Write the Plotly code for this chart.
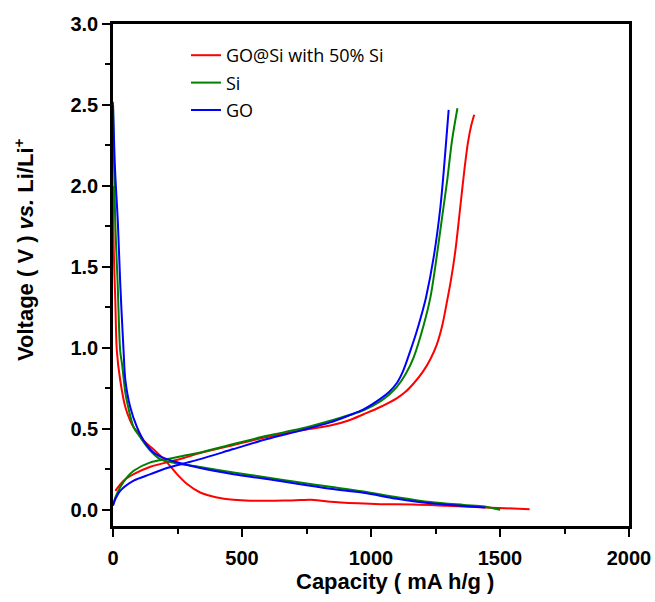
import plotly.graph_objects as go

# ---------------- data ----------------
series_names = ["GO@Si with 50% Si", "Si", "GO"]
series_colors = ["#ff0000", "#008000", "#0000ff"]

# discharge branches (voltage falling)
red_dis_x = [0, 3, 9, 15, 28, 48, 67, 80, 106, 119, 145, 170, 209, 248, 287, 338, 403, 467, 532, 597, 661, 726, 765, 800, 842, 950, 1036, 1165, 1295, 1424, 1520, 1615]
red_dis_y = [2.0, 1.6, 1.29, 0.98, 0.8, 0.633, 0.55, 0.51, 0.46, 0.427, 0.39, 0.354, 0.293, 0.22, 0.159, 0.107, 0.076, 0.062, 0.056, 0.056, 0.057, 0.06, 0.062, 0.058, 0.05, 0.04, 0.035, 0.033, 0.025, 0.016, 0.01, 0.004]

green_dis_x = [0, 9, 18, 28, 35, 48, 54, 80, 106, 145, 183, 235, 338, 467, 597, 726, 842, 971, 1101, 1230, 1360, 1440, 1501]
green_dis_y = [2.52, 1.77, 1.4, 0.98, 0.9, 0.72, 0.67, 0.51, 0.447, 0.365, 0.313, 0.29, 0.264, 0.23, 0.2, 0.168, 0.142, 0.113, 0.078, 0.048, 0.03, 0.02, 0.0]

blue_dis_x = [0, 8, 19, 28, 41, 48, 67, 93, 119, 157, 209, 274, 338, 467, 597, 726, 842, 971, 1101, 1230, 1360, 1443]
blue_dis_y = [2.5, 2.1, 1.77, 1.4, 0.98, 0.8, 0.633, 0.51, 0.427, 0.354, 0.313, 0.283, 0.258, 0.22, 0.19, 0.158, 0.13, 0.105, 0.068, 0.04, 0.024, 0.014]

# charge branches (voltage rising)
red_ch_x = [9, 41, 80, 145, 209, 274, 338, 467, 597, 726, 842, 910, 971, 1036, 1101, 1135, 1165, 1200, 1230, 1255, 1275, 1295, 1310, 1327, 1346, 1362, 1376, 1388, 1400]
red_ch_y = [0.117, 0.18, 0.22, 0.266, 0.293, 0.32, 0.35, 0.4, 0.45, 0.49, 0.52, 0.55, 0.59, 0.635, 0.69, 0.73, 0.78, 0.85, 0.93, 1.02, 1.13, 1.29, 1.42, 1.6, 1.87, 2.1, 2.27, 2.37, 2.44]

green_ch_x = [0, 10, 28, 54, 80, 145, 209, 274, 338, 467, 597, 726, 842, 971, 1036, 1070, 1101, 1135, 1165, 1204, 1230, 1249, 1275, 1295, 1314, 1335]
green_ch_y = [0.03, 0.08, 0.14, 0.2, 0.241, 0.293, 0.313, 0.334, 0.354, 0.406, 0.457, 0.5, 0.55, 0.615, 0.67, 0.71, 0.76, 0.84, 0.94, 1.14, 1.31, 1.5, 1.8, 2.03, 2.28, 2.48]

blue_ch_x = [0, 10, 28, 80, 145, 209, 274, 338, 467, 597, 726, 842, 910, 971, 1036, 1070, 1101, 1125, 1152, 1175, 1195, 1213, 1243, 1269, 1285, 1301]
blue_ch_y = [0.025, 0.07, 0.117, 0.18, 0.22, 0.258, 0.286, 0.313, 0.375, 0.437, 0.489, 0.54, 0.58, 0.62, 0.685, 0.728, 0.785, 0.86, 0.98, 1.09, 1.2, 1.31, 1.56, 1.87, 2.15, 2.47]

x_ticks = [0, 500, 1000, 1500, 2000]
y_ticks = [0.0, 0.5, 1.0, 1.5, 2.0, 2.5, 3.0]

branches = [
    (red_dis_x, red_dis_y, red_ch_x, red_ch_y),
    (green_dis_x, green_dis_y, green_ch_x, green_ch_y),
    (blue_dis_x, blue_dis_y, blue_ch_x, blue_ch_y),
]

fig = go.Figure()
for name, color, (dx, dy, cx, cy) in zip(series_names, series_colors, branches):
    fig.add_trace(go.Scatter(x=dx, y=dy, mode="lines", name=name, legendgroup=name,
                             line=dict(color=color, width=2, shape="spline", smoothing=0.9),
                             showlegend=True))
    fig.add_trace(go.Scatter(x=cx, y=cy, mode="lines", name=name, legendgroup=name,
                             line=dict(color=color, width=2, shape="spline", smoothing=0.9),
                             showlegend=False))

bold_font = "Liberation Sans, Arial, sans-serif"
axis_common = dict(
    showline=True, linecolor="black", linewidth=2.5, mirror=True,
    ticks="outside", ticklen=8, tickwidth=2, tickcolor="black",
    showgrid=False, zeroline=False, automargin=False,
    tickfont=dict(family=bold_font, size=20, color="black", weight="bold"),
)

fig.update_xaxes(range=[0, 2000], tickvals=x_ticks, ticktext=[str(v) for v in x_ticks],
                 minor=dict(ticks="outside", ticklen=5, tickwidth=2, tickcolor="black", dtick=250),
                 ticklabelstandoff=4,
                 **axis_common)
fig.update_yaxes(range=[-0.1, 3.0], tickvals=y_ticks, ticktext=[f"{v:.1f}" for v in y_ticks],
                 minor=dict(ticks="outside", ticklen=5, tickwidth=2, tickcolor="black", dtick=0.25, tick0=0),
                 **axis_common)

fig.add_annotation(text="Capacity ( mA h/g )", xref="paper", yref="paper",
                   x=(395 - 113) / 516, y=-(581 - 526) / 502, showarrow=False,
                   xanchor="center", yanchor="middle",
                   font=dict(family=bold_font, size=22, color="black", weight="bold"))
fig.add_annotation(text="Voltage ( V ) <i>vs.</i> Li/Li<sup>+</sup>", xref="paper", yref="paper",
                   x=-(113 - 24) / 516, y=(526 - 250) / 502, showarrow=False, textangle=-90,
                   xanchor="center", yanchor="middle",
                   font=dict(family=bold_font, size=22, color="black", weight="bold"))

fig.update_layout(
    width=655, height=602,
    margin=dict(l=113, r=26, t=24, b=76),
    plot_bgcolor="white", paper_bgcolor="white",
    legend=dict(x=(186 - 113) / 516, y=1 - (37 - 24) / 502, xanchor="left", yanchor="top",
                bgcolor="rgba(0,0,0,0)", traceorder="grouped", tracegroupgap=1,
                font=dict(family="Open Sans, sans-serif", size=18, color="black"),
                itemwidth=30),
)

fig.write_html("out.html", config={"displayModeBar": False},
               post_script="document.body.style.margin='0';document.body.style.overflow='hidden';")
